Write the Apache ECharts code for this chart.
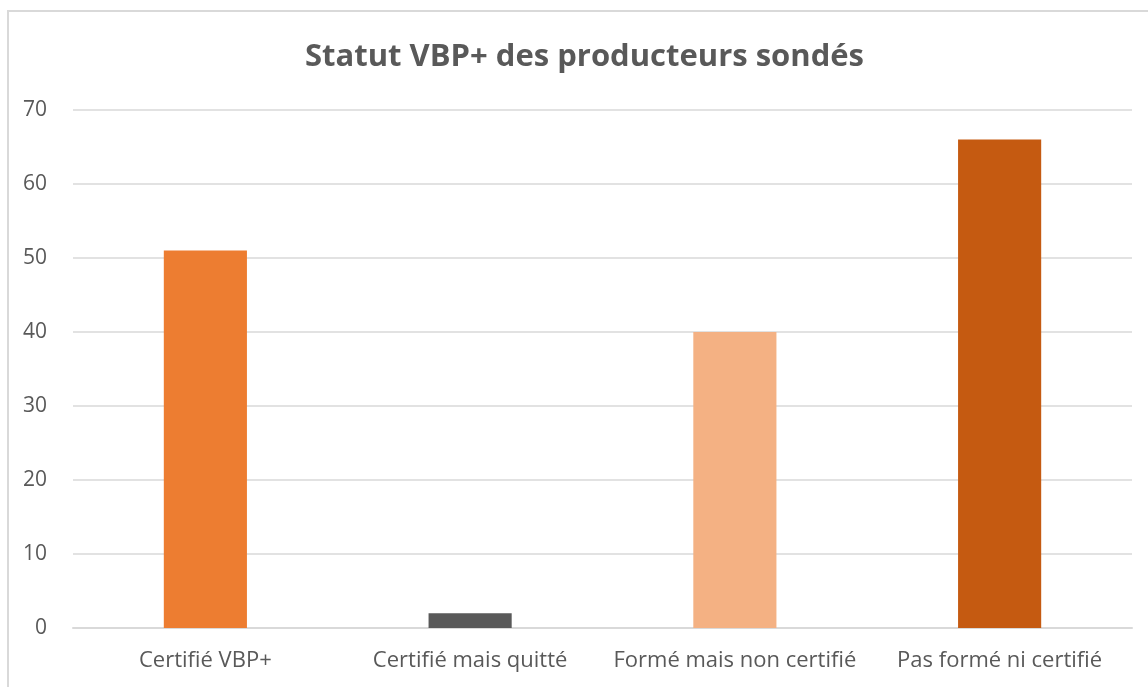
<!DOCTYPE html>
<html>
<head>
<meta charset="utf-8">
<script src="https://cdn.jsdelivr.net/npm/echarts@6/dist/echarts.min.js"></script>
<style>
  html, body { margin: 0; padding: 0; background: #fff; }
  #main { width: 1148px; height: 687px; }
</style>
</head>
<body>
<div id="main"></div>
<script>
// données du graphique
var categories = ['Certifié VBP+', 'Certifié mais quitté', 'Formé mais non certifié', 'Pas formé ni certifié'];
var values = [51, 2, 40, 66];
var barColors = ['#ED7D31', '#595959', '#F4B183', '#C55A11'];
var yTicks = [0, 10, 20, 30, 40, 50, 60, 70];

var myChart = echarts.init(document.getElementById('main'));

var option = {
    backgroundColor: '#fff',
    animation: false,
    title: {
        text: 'Statut VBP+ des producteurs sondés',
        left: 300,
        top: 37,
        textStyle: {
            fontFamily: 'Open Sans',
            fontWeight: 'bold',
            fontSize: 31,
            color: '#595959'
        }
    },
    // bordure du cadre
    graphic: [{
        type: 'rect',
        shape: { x: 8, y: 11, width: 1200, height: 800 },
        style: { fill: 'none', stroke: '#d9d9d9', lineWidth: 2 }
    }],
    grid: {
        left: 73,
        right: 16,
        top: 110,
        bottom: 59
    },
    xAxis: {
        type: 'category',
        data: categories,
        axisLine: { lineStyle: { color: '#d9d9d9', width: 2 } },
        axisTick: { show: false },
        axisLabel: {
            fontFamily: 'Open Sans',
            fontSize: 22,
            color: '#595959',
            margin: 22,
            interval: 0
        }
    },
    yAxis: {
        type: 'value',
        min: yTicks[0],
        max: yTicks[yTicks.length - 1],
        interval: 10,
        axisLine: { show: false },
        axisTick: { show: false },
        splitLine: { lineStyle: { color: '#d9d9d9', width: 1.5 } },
        axisLabel: {
            fontFamily: 'Open Sans',
            fontSize: 21,
            color: '#595959',
            margin: 26
        }
    },
    series: [{
        type: 'bar',
        barWidth: '31.4%',
        data: values.map(function (v, i) {
            return { value: v, itemStyle: { color: barColors[i] } };
        })
    }]
};

myChart.setOption(option);
</script>
</body>
</html>
